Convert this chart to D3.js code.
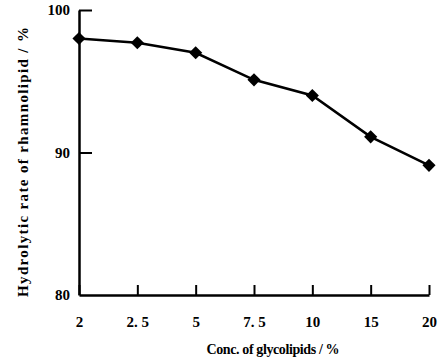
<!DOCTYPE html>
<html>
<head>
<meta charset="utf-8">
<script src="https://cdn.jsdelivr.net/npm/d3@7"></script>
<style>
  body { margin: 0; background: #fff; }
  text { font-family: "Liberation Serif", "DejaVu Serif", serif; font-weight: bold; fill: #000; }
</style>
</head>
<body>
<svg id="main" width="447" height="360"></svg>
<script>
// data
var conc = ["2", "2.5", "5", "7.5", "10", "15", "20"];
var tickText = ["2", "2. 5", "5", "7. 5", "10", "15", "20"];
var rate = [98.0, 97.7, 97.0, 95.1, 94.0, 91.1, 89.1];
var yTicks = [80, 90, 100];

var svg = d3.select("#main");

var x = d3.scalePoint().domain(conc).range([79, 429]);
var y = d3.scaleLinear().domain([80, 100]).range([295, 10]);

// axes, ticks pointing inward
var xAxis = svg.append("g").attr("transform", "translate(0,295)")
  .call(d3.axisBottom(x).tickSizeInner(-10).tickSizeOuter(0)
    .tickFormat(function(d, i) { return tickText[i]; }));
xAxis.select(".domain").attr("stroke-width", 2.5);
xAxis.selectAll(".tick line").attr("stroke-width", 2);
xAxis.selectAll(".tick text").attr("y", 21).attr("font-size", 15)
  .attr("font-family", "Liberation Serif").attr("font-weight", "bold");

var yAxis = svg.append("g").attr("transform", "translate(79,0)")
  .call(d3.axisLeft(y).tickValues(yTicks).tickSizeInner(-13).tickSizeOuter(0));
yAxis.select(".domain").attr("stroke-width", 2.5);
yAxis.selectAll(".tick line").attr("stroke-width", 2);
yAxis.selectAll(".tick text").attr("x", -9).attr("font-size", 15)
  .attr("font-family", "Liberation Serif").attr("font-weight", "bold");
yAxis.selectAll(".tick").filter(function(d) { return d == 80; }).select("line").remove();

// line
var line = d3.line()
  .x(function(d, i) { return x(conc[i]); })
  .y(function(d) { return y(d); });

svg.append("path").datum(rate)
  .attr("d", line)
  .attr("fill", "none")
  .attr("stroke", "#000")
  .attr("stroke-width", 2.5);

svg.selectAll(".pt").data(rate).enter().append("path")
  .attr("class", "pt")
  .attr("d", d3.symbol().type(d3.symbolDiamond2).size(110))
  .attr("transform", function(d, i) { return "translate(" + x(conc[i]) + "," + y(d) + ")"; })
  .attr("fill", "#000");

// titles
svg.append("text")
  .attr("x", 273).attr("y", 354)
  .attr("text-anchor", "middle")
  .attr("font-size", 14)
  .attr("textLength", 133).attr("lengthAdjust", "spacing")
  .text("Conc.  of glycolipids / %");

svg.append("text")
  .attr("transform", "translate(28,162) rotate(-90)")
  .attr("text-anchor", "middle")
  .attr("font-size", 15)
  .attr("textLength", 270).attr("lengthAdjust", "spacing")
  .text("Hydrolytic rate of rhamnolipid / %");
</script>
</body>
</html>
